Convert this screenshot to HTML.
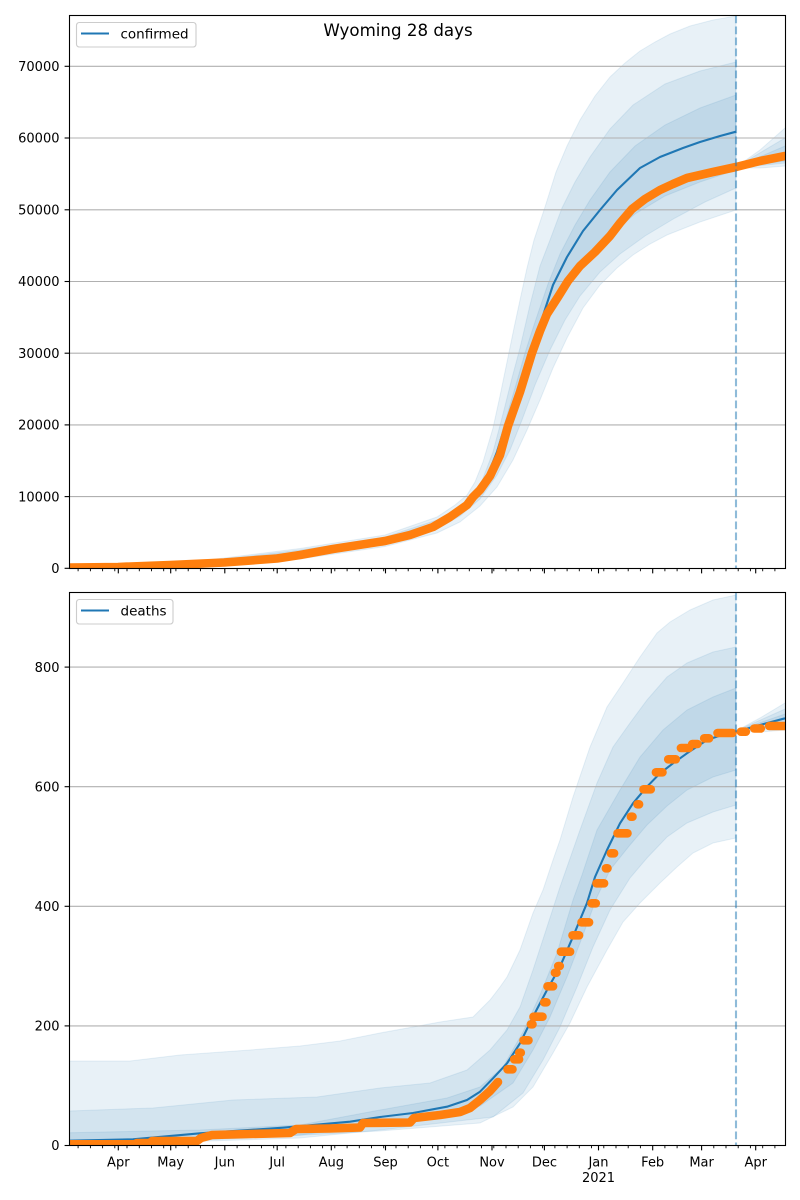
<!DOCTYPE html>
<html>
<head>
<meta charset="utf-8">
<style>
html,body{margin:0;padding:0;background:#fff;}
svg{display:block;}
text{font-family:"DejaVu Sans","Liberation Sans",sans-serif;fill:#000;}
</style>
</head>
<body>
<svg width="800" height="1200" viewBox="0 0 800 1200" xmlns="http://www.w3.org/2000/svg">
<defs>
<clipPath id="c1"><rect x="69.5" y="15.5" width="716" height="553"/></clipPath>
<clipPath id="c2"><rect x="69.5" y="592.5" width="716" height="553"/></clipPath>
</defs>
<rect x="0" y="0" width="800" height="1200" fill="#fff"/>

<!-- ============ TOP AXES ============ -->
<g clip-path="url(#c1)">
  <g fill="#1f77b4" fill-opacity="0.1" stroke="#1f77b4" stroke-opacity="0.1" stroke-width="1">
    <polygon points="69.5,566 200,561 300,548.5 385,535 437,517 455,505 467,495 475,482 483,462 493,428 500,396 507,362 514,328 520,300 527,268 534,240 545,207 556,172 567,146 580,120 595,96 610,77 625,63 640,51 655,42 670,34 690,26 713,20 736,16 736,210 700,222 667,235 650,244 633,255 617,268 600,285 583,308 567,338 553,368 540,400 527,430 513,460 497,487 480,506 460,522 437,533 385,546.5 300,559 200,565.5 69.5,568.3"/>
    <polygon points="69.5,567 200,562 300,550 385,537 437,520 460,507 480,486 493,452 503,414 512,378 520,348 530,305 540,266 550,240 562,208 575,182 590,157 610,129 633,105 665,84 700,71 736,62 736,188 705,202 675,218 645,236 620,254 600,272 580,296 565,320 550,350 535,385 522,420 510,450 497,475 480,499 460,516 437,529 385,544 300,557.5 200,564.5 69.5,568.3"/>
    <polygon points="69.5,567.3 200,562.7 300,551.5 385,538.5 437,522 460,509 480,489 495,456 505,422 515,388 525,353 535,322 548,284 560,254 575,225 590,200 610,172 635,146 665,125 700,108 736,95 736,170 700,182 665,196 635,214 610,235 590,254 575,272 560,295 548,318 535,350 525,380 515,412 505,442 495,468 480,494 460,513 437,527 385,542.5 300,556 200,563.5 69.5,568"/>
    <polygon points="736,167 760,150 785,128 786,127 786,166 760,168 736,168"/>
    <polygon points="736,167 785,138 786,138 786,163 736,168"/>
    <polygon points="736,167 785,146 786,146 786,161 736,167.5"/>
  </g>
  <!-- grid -->
  <g stroke="#b0b0b0" stroke-width="1.1">
    <line x1="69.5" y1="496.6" x2="785.5" y2="496.6"/>
    <line x1="69.5" y1="424.9" x2="785.5" y2="424.9"/>
    <line x1="69.5" y1="353.2" x2="785.5" y2="353.2"/>
    <line x1="69.5" y1="281.5" x2="785.5" y2="281.5"/>
    <line x1="69.5" y1="209.8" x2="785.5" y2="209.8"/>
    <line x1="69.5" y1="138.0" x2="785.5" y2="138.0"/>
    <line x1="69.5" y1="66.3" x2="785.5" y2="66.3"/>
  </g>
  <polyline fill="none" stroke="#1f77b4" stroke-width="2.1" stroke-linejoin="round" points="69.5,567 118,566.5 170,564.5 224,562 277,558 333,548.5 385,540.5 410,534 437,524 455,513 473,497 487,477 497,452 507,420 517,392 527,362 537,334 553,285 567,257 583,231 600,210 617,190 640,168 660,157 683,148 700,142 720,136 736,131.7"/>
  <polyline fill="none" stroke="#1f77b4" stroke-width="2.1" points="736,167 785,153"/>
  <polyline fill="none" stroke="#ff7f0e" stroke-width="8.6" stroke-linejoin="round" stroke-linecap="round" points="69.5,567.5 118,567 170,565 224,562.5 277,558.5 300,555 333,549 385,541 410,535 433,527 450,517 467,505 473,497 480,490 490,476 500,455 508,426 520,392 532,353 540,331 547,314 558,297 568,281 580,266 595,252 610,236 620,223 632,209 645,199 660,190 673,184 687,178 700,175 713,172 736,167 760,161 785,156"/>
  <line x1="736" y1="15.5" x2="736" y2="568.5" stroke="#1f77b4" stroke-opacity="0.5" stroke-width="2.1" stroke-dasharray="7.7 3.3"/>
</g>
<rect x="69.5" y="15.5" width="716" height="553" fill="none" stroke="#000" stroke-width="1.1"/>
<!-- top y ticks -->
<g stroke="#000" stroke-width="1.1">
  <line x1="69.5" y1="568.3" x2="64.6" y2="568.3"/>
  <line x1="69.5" y1="496.6" x2="64.6" y2="496.6"/>
  <line x1="69.5" y1="424.9" x2="64.6" y2="424.9"/>
  <line x1="69.5" y1="353.2" x2="64.6" y2="353.2"/>
  <line x1="69.5" y1="281.5" x2="64.6" y2="281.5"/>
  <line x1="69.5" y1="209.8" x2="64.6" y2="209.8"/>
  <line x1="69.5" y1="138.0" x2="64.6" y2="138.0"/>
  <line x1="69.5" y1="66.3" x2="64.6" y2="66.3"/>
</g>
<g font-size="13" text-anchor="end">
  <text x="59.5" y="573">0</text>
  <text x="59.5" y="501.3">10000</text>
  <text x="59.5" y="429.6">20000</text>
  <text x="59.5" y="357.9">30000</text>
  <text x="59.5" y="286.2">40000</text>
  <text x="59.5" y="214.5">50000</text>
  <text x="59.5" y="142.7">60000</text>
  <text x="59.5" y="71">70000</text>
</g>
<!-- top x ticks -->
<path stroke="#000" stroke-width="1.1" fill="none" d="M118.3 568.5v4.9M170.7 568.5v4.9M224.8 568.5v4.9M277.2 568.5v4.9M331.3 568.5v4.9M385.5 568.5v4.9M437.9 568.5v4.9M492 568.5v4.9M544.4 568.5v4.9M598.5 568.5v4.9M652.7 568.5v4.9M701.6 568.5v4.9M755.7 568.5v4.9"/>
<path stroke="#000" stroke-width="0.9" fill="none" d="M78.1 568.5v2.8M90.4 568.5v2.8M102.6 568.5v2.8M114.8 568.5v2.8M127 568.5v2.8M139.3 568.5v2.8M151.5 568.5v2.8M163.7 568.5v2.8M175.9 568.5v2.8M188.2 568.5v2.8M200.4 568.5v2.8M212.6 568.5v2.8M237.1 568.5v2.8M249.3 568.5v2.8M261.5 568.5v2.8M273.7 568.5v2.8M285.9 568.5v2.8M298.2 568.5v2.8M310.4 568.5v2.8M322.6 568.5v2.8M334.8 568.5v2.8M347.1 568.5v2.8M359.3 568.5v2.8M371.5 568.5v2.8M383.7 568.5v2.8M396 568.5v2.8M408.2 568.5v2.8M420.4 568.5v2.8M432.6 568.5v2.8M444.9 568.5v2.8M457.1 568.5v2.8M469.3 568.5v2.8M481.5 568.5v2.8M493.8 568.5v2.8M506 568.5v2.8M518.2 568.5v2.8M530.4 568.5v2.8M542.6 568.5v2.8M554.9 568.5v2.8M567.1 568.5v2.8M579.3 568.5v2.8M591.5 568.5v2.8M603.8 568.5v2.8M616 568.5v2.8M628.2 568.5v2.8M640.4 568.5v2.8M664.9 568.5v2.8M677.1 568.5v2.8M689.3 568.5v2.8M713.8 568.5v2.8M726 568.5v2.8M738.2 568.5v2.8M750.4 568.5v2.8M762.7 568.5v2.8M774.9 568.5v2.8"/>
<!-- top legend -->
<rect x="76.5" y="22.5" width="119.5" height="24.5" rx="2.8" fill="#fff" fill-opacity="0.8" stroke="#cccccc" stroke-width="1.1"/>
<line x1="81" y1="33.5" x2="109" y2="33.5" stroke="#1f77b4" stroke-width="2.1"/>
<text x="120.5" y="38.5" font-size="13.5">confirmed</text>
<!-- title -->
<text x="398" y="36" font-size="16.67" text-anchor="middle">Wyoming 28 days</text>

<!-- ============ BOTTOM AXES ============ -->
<g clip-path="url(#c2)">
  <g fill="#1f77b4" fill-opacity="0.1" stroke="#1f77b4" stroke-opacity="0.1" stroke-width="1">
    <polygon points="69.5,1061 130,1061 180,1055 250,1050 300,1046 340,1041 380,1033 413,1027 440,1022 473,1017 490,1000 500,987 507,977 520,950 533,913 543,890 553,860 560,840 573,797 590,747 607,707 623,683 640,657 657,633 670,622 690,610 713,600 736,595 736,838 713,843 693,853 677,867 660,883 640,903 623,922 607,950 587,987 570,1023 553,1053 533,1087 513,1107 480,1123 380,1131 250,1138 69.5,1145.5"/>
    <polygon points="69.5,1111 153,1108 233,1100 317,1097 380,1088 430,1083 467,1070 490,1050 507,1030 520,1007 533,970 547,927 560,887 580,830 597,783 613,747 630,723 647,700 667,677 687,663 713,652 736,647 736,805 713,812 687,823 667,837 647,858 630,878 610,910 593,947 577,987 560,1027 543,1060 523,1093 493,1117 380,1130 300,1138 69.5,1145.5"/>
    <polygon points="69.5,1132.7 200,1130 300,1125 380,1110 447,1098 480,1087 503,1067 523,1032 540,995 557,953 573,900 582,875 597,830 620,790 640,757 663,730 687,710 713,697 736,688 736,770 713,777 687,790 667,806 647,825 630,845 610,870 597,897 583,935 567,977 550,1017 533,1050 513,1083 480,1106 380,1125 300,1135 69.5,1144"/>
    <polygon points="736,731 760,718 785,703 786,703 786,730 760,732 736,732"/>
    <polygon points="736,731 785,709 786,709 786,727 736,732"/>
    <polygon points="736,731 785,714 786,714 786,724 736,731.8"/>
  </g>
  <g stroke="#b0b0b0" stroke-width="1.1">
    <line x1="69.5" y1="1025.9" x2="785.5" y2="1025.9"/>
    <line x1="69.5" y1="906.3" x2="785.5" y2="906.3"/>
    <line x1="69.5" y1="786.7" x2="785.5" y2="786.7"/>
    <line x1="69.5" y1="667.1" x2="785.5" y2="667.1"/>
  </g>
  <polyline fill="none" stroke="#1f77b4" stroke-width="2.1" stroke-linejoin="round" points="69.5,1140.7 133,1139.3 200,1133.3 283,1127.7 350,1121.7 380,1117 413,1113 447,1106.7 467,1100 480,1091.7 493,1078.3 507,1063.3 520,1043.3 533,1016.7 547,990 560,966.7 573,936.7 587,903 595,877 607,850 620,823.3 633,803.3 647,786.7 660,773.3 673,763.3 687,753.3 707,740 727,733.3 736,731.7"/>
  <polyline fill="none" stroke="#1f77b4" stroke-width="2.1" points="736,731.7 760,725 785,718.3"/>
  <g fill="none" stroke="#ff7f0e" stroke-width="8.6" stroke-linecap="round" stroke-linejoin="round">
    <polyline points="69.5,1144.3 135,1144.3 137,1143 150,1143 152,1141 197,1141 201,1138 212,1135 250,1134 290,1133 296,1129 330,1128.5 360,1127.5 363,1123 410,1122.5 414,1118 440,1115 460,1112 470,1108 480,1100 490,1091 498,1082"/>
    <path d="M507.5 1069.3H512.5M514.2 1059.3H519.1M519.2 1052.7H520.8M523.5 1040.3H528.5M530.9 1024.3H532.5M533.5 1016.7H542.5M544.2 1002.3H546.5M547.5 986.3H553.1M554.9 972.7H556.5M558.2 966H559.8M560.9 951.7H570.1M572.5 935.3H579.1M581.5 922.3H589.1M591.5 903.3H595.8M596.5 883.3H604.1M605.9 868.3H607.5M610.9 853.3H614.1M617.5 833.3H627.5M630.9 816.7H632.5M637.5 804.3H639.1M643.5 789.3H650.8M655.9 772.3H662.5M668.2 759.3H675.8M680.9 748H689.1M692.2 744H697.5M704.2 738.3H709.1M717.5 733H732.5M740.9 731.7H745.8M754.2 728.5H760.8M769.2 726H785"/>
  </g>
  <line x1="736" y1="592.5" x2="736" y2="1145.5" stroke="#1f77b4" stroke-opacity="0.5" stroke-width="2.1" stroke-dasharray="7.7 3.3"/>
</g>
<rect x="69.5" y="592.5" width="716" height="553" fill="none" stroke="#000" stroke-width="1.1"/>
<g stroke="#000" stroke-width="1.1">
  <line x1="69.5" y1="1145.5" x2="64.6" y2="1145.5"/>
  <line x1="69.5" y1="1025.9" x2="64.6" y2="1025.9"/>
  <line x1="69.5" y1="906.3" x2="64.6" y2="906.3"/>
  <line x1="69.5" y1="786.7" x2="64.6" y2="786.7"/>
  <line x1="69.5" y1="667.1" x2="64.6" y2="667.1"/>
</g>
<g font-size="13" text-anchor="end">
  <text x="59.5" y="1150.2">0</text>
  <text x="59.5" y="1030.6">200</text>
  <text x="59.5" y="911">400</text>
  <text x="59.5" y="791.4">600</text>
  <text x="59.5" y="671.8">800</text>
</g>
<path stroke="#000" stroke-width="1.1" fill="none" d="M118.3 1145.5v4.9M170.7 1145.5v4.9M224.8 1145.5v4.9M277.2 1145.5v4.9M331.3 1145.5v4.9M385.5 1145.5v4.9M437.9 1145.5v4.9M492 1145.5v4.9M544.4 1145.5v4.9M598.5 1145.5v4.9M652.7 1145.5v4.9M701.6 1145.5v4.9M755.7 1145.5v4.9"/>
<path stroke="#000" stroke-width="0.9" fill="none" d="M78.1 1145.5v2.8M90.4 1145.5v2.8M102.6 1145.5v2.8M114.8 1145.5v2.8M127 1145.5v2.8M139.3 1145.5v2.8M151.5 1145.5v2.8M163.7 1145.5v2.8M175.9 1145.5v2.8M188.2 1145.5v2.8M200.4 1145.5v2.8M212.6 1145.5v2.8M237.1 1145.5v2.8M249.3 1145.5v2.8M261.5 1145.5v2.8M273.7 1145.5v2.8M285.9 1145.5v2.8M298.2 1145.5v2.8M310.4 1145.5v2.8M322.6 1145.5v2.8M334.8 1145.5v2.8M347.1 1145.5v2.8M359.3 1145.5v2.8M371.5 1145.5v2.8M383.7 1145.5v2.8M396 1145.5v2.8M408.2 1145.5v2.8M420.4 1145.5v2.8M432.6 1145.5v2.8M444.9 1145.5v2.8M457.1 1145.5v2.8M469.3 1145.5v2.8M481.5 1145.5v2.8M493.8 1145.5v2.8M506 1145.5v2.8M518.2 1145.5v2.8M530.4 1145.5v2.8M542.6 1145.5v2.8M554.9 1145.5v2.8M567.1 1145.5v2.8M579.3 1145.5v2.8M591.5 1145.5v2.8M603.8 1145.5v2.8M616 1145.5v2.8M628.2 1145.5v2.8M640.4 1145.5v2.8M664.9 1145.5v2.8M677.1 1145.5v2.8M689.3 1145.5v2.8M713.8 1145.5v2.8M726 1145.5v2.8M738.2 1145.5v2.8M750.4 1145.5v2.8M762.7 1145.5v2.8M774.9 1145.5v2.8"/>
<g font-size="13" text-anchor="middle">
  <text x="118.3" y="1166.5">Apr</text>
  <text x="170.7" y="1166.5">May</text>
  <text x="224.8" y="1166.5">Jun</text>
  <text x="277.2" y="1166.5">Jul</text>
  <text x="331.3" y="1166.5">Aug</text>
  <text x="385.5" y="1166.5">Sep</text>
  <text x="437.9" y="1166.5">Oct</text>
  <text x="492" y="1166.5">Nov</text>
  <text x="544.4" y="1166.5">Dec</text>
  <text x="598.5" y="1166.5">Jan</text>
  <text x="598.5" y="1182">2021</text>
  <text x="652.7" y="1166.5">Feb</text>
  <text x="701.6" y="1166.5">Mar</text>
  <text x="755.7" y="1166.5">Apr</text>
</g>
<!-- bottom legend -->
<rect x="76.5" y="599.5" width="96.5" height="24.5" rx="2.8" fill="#fff" fill-opacity="0.8" stroke="#cccccc" stroke-width="1.1"/>
<line x1="81" y1="610.5" x2="109" y2="610.5" stroke="#1f77b4" stroke-width="2.1"/>
<text x="120.5" y="615.5" font-size="13.5">deaths</text>
</svg>
</body>
</html>
